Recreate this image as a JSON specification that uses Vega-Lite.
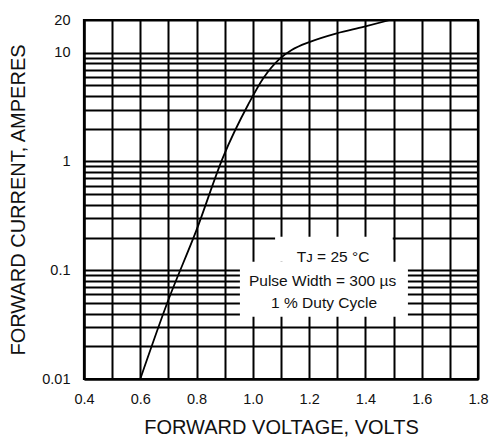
{
  "$schema": "https://vega.github.io/schema/vega-lite/v6.json",
  "autosize": {"type": "none"},
  "padding": {"left": 84, "top": 20, "right": 15, "bottom": 61},
  "width": 394,
  "height": 359,
  "background": "white",
  "config": {
    "font": "Liberation Sans",
    "view": {"stroke": "black", "strokeWidth": 2.2}
  },
  "datasets": {
    "curve": [
      {"v": 0.6, "i": 0.01},
      {"v": 0.7, "i": 0.0535},
      {"v": 0.8, "i": 0.235},
      {"v": 0.895, "i": 1.11},
      {"v": 0.984, "i": 3.36},
      {"v": 1.037, "i": 5.83},
      {"v": 1.097, "i": 8.89},
      {"v": 1.138, "i": 10.6},
      {"v": 1.203, "i": 12.6},
      {"v": 1.298, "i": 15.1},
      {"v": 1.393, "i": 17.3},
      {"v": 1.487, "i": 20}
    ],
    "boxes": [
      {"x1": 1.079, "x2": 1.497, "y1": 0.1196, "y2": 0.203},
      {"x1": 0.954, "x2": 1.551, "y1": 0.0374, "y2": 0.1196}
    ],
    "notes": [
      {"v": 1.285, "i": 0.1337, "t": "Tᴊ = 25 °C"},
      {"v": 1.2476, "i": 0.080, "t": "Pulse Width = 300 µs"},
      {"v": 1.253, "i": 0.0505, "t": "1 % Duty Cycle"}
    ]
  },
  "encoding": {
    "x": {
      "field": "v",
      "type": "quantitative",
      "scale": {"domain": [0.4, 1.8], "nice": false, "zero": false},
      "axis": {
        "title": "FORWARD VOLTAGE, VOLTS",
        "titleFont": "Liberation Sans",
        "titleFontSize": 20,
        "titleFontWeight": "normal",
        "titleColor": "#111",
        "titlePadding": 12,
        "values": [0.4, 0.5, 0.6, 0.7, 0.8, 0.9, 1.0, 1.1, 1.2, 1.3, 1.4, 1.5, 1.6, 1.7, 1.8],
        "labelExpr": "round(datum.value*10)%2==0 ? format(datum.value,'.1f') : ''",
        "labelOverlap": false,
        "labelFlush": false,
        "labelFontSize": 14.5,
        "labelColor": "#111",
        "labelPadding": 13,
        "ticks": false,
        "grid": true,
        "gridColor": "black",
        "gridOpacity": 1,
        "gridWidth": 2,
        "domainColor": "black",
        "domainWidth": 2.2
      }
    },
    "y": {
      "field": "i",
      "type": "quantitative",
      "scale": {"type": "log", "domain": [0.01, 20], "nice": false},
      "axis": {
        "title": "FORWARD CURRENT, AMPERES",
        "titleFont": "Liberation Sans",
        "titleFontSize": 20,
        "titleFontWeight": "normal",
        "titleColor": "#111",
        "titlePadding": 13,
        "values": [0.01, 0.02, 0.03, 0.04, 0.05, 0.06, 0.07, 0.08, 0.09, 0.1, 0.2, 0.3, 0.4, 0.5, 0.6, 0.7, 0.8, 0.9, 1, 2, 3, 4, 5, 6, 7, 8, 9, 10, 20],
        "labelExpr": "datum.value==0.01 ? '0.01' : datum.value==0.1 ? '0.1' : datum.value==1 ? '1' : datum.value==10 ? '10' : datum.value==20 ? '20' : ''",
        "labelOverlap": false,
        "labelFlush": false,
        "labelFontSize": 14.5,
        "labelColor": "#111",
        "labelPadding": 14,
        "ticks": false,
        "grid": true,
        "gridColor": "black",
        "gridOpacity": 1,
        "gridWidth": 2,
        "domainColor": "black",
        "domainWidth": 2.2
      }
    }
  },
  "layer": [
    {
      "data": {"name": "curve"},
      "mark": {"type": "line", "color": "black", "strokeWidth": 1.8, "interpolate": "monotone"}
    },
    {
      "data": {"name": "boxes"},
      "mark": {"type": "rect", "color": "white", "opacity": 1},
      "encoding": {
        "x": {"field": "x1", "type": "quantitative"},
        "x2": {"field": "x2"},
        "y": {"field": "y1", "type": "quantitative"},
        "y2": {"field": "y2"}
      }
    },
    {
      "data": {"name": "notes"},
      "mark": {"type": "text", "font": "Liberation Sans", "fontSize": 15.5, "color": "#111", "align": "center", "baseline": "middle"},
      "encoding": {
        "text": {"field": "t", "type": "nominal"}
      }
    }
  ]
}
